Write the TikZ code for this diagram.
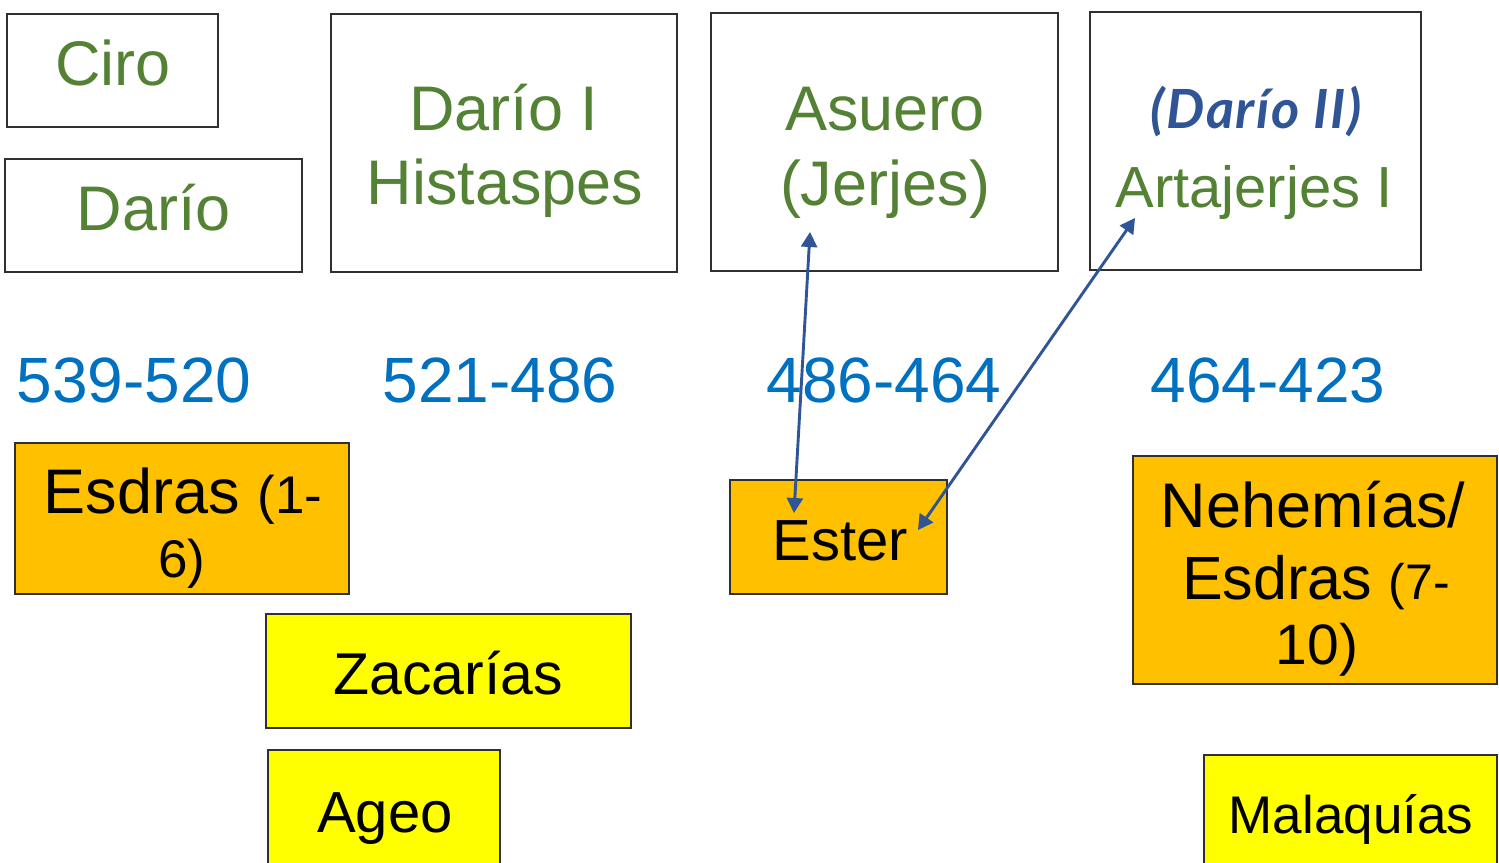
\documentclass[tikz,border=0pt]{standalone}
\usepackage{fontspec}
\setmainfont{Liberation Sans}
\newfontfamily\handfont[LetterSpace=3]{Lato}
\usetikzlibrary{arrows.meta}
\definecolor{kgreen}{HTML}{548235}
\definecolor{kyear}{HTML}{0070C0}
\definecolor{karrow}{HTML}{2F5597}
\definecolor{korange}{HTML}{FFC000}
\definecolor{kyellow}{HTML}{FFFF00}
\definecolor{kborder}{HTML}{303030}
\newcommand{\fs}[1]{\fontsize{#1}{#1}\selectfont}
\tikzset{
  kingbox/.style={draw=kborder, line width=1.2pt, fill=white},
  bookbox/.style={draw=kborder, line width=1.2pt, fill=korange},
  prophbox/.style={draw=kborder, line width=1.2pt, fill=kyellow},
  kingtxt/.style={anchor=base, inner sep=0pt, text=kgreen, font=\fs{63}},
  yeartxt/.style={anchor=base, inner sep=0pt, text=kyear, font=\fs{64}},
  blacktxt/.style={anchor=base, inner sep=0pt, text=black, font=\fs{63}},
  link/.style={draw=karrow, line width=2.9pt, {Triangle[length=15pt,width=16pt]}-{Triangle[length=15pt,width=16pt]}}
}
\begin{document}
\begin{tikzpicture}[x=1pt,y=-1pt]
\useasboundingbox (0,0) rectangle (1499,862);
\clip (0,0) rectangle (1499,862);
% king boxes
\draw[kingbox] (7,14) rectangle (218,127);
\node[kingtxt] (ciro) at (113,85) {Ciro};
\draw[kingbox] (5,159) rectangle (302,272);
\node[kingtxt] (dario) at (154,230) {Darío};
\draw[kingbox] (331,14) rectangle (677,272);
\node[kingtxt] (dario1) at (504,130) {Darío I};
\node[kingtxt] (histaspes) at (505,204) {Histaspes};
\draw[kingbox] (711,13) rectangle (1058,271);
\node[kingtxt] (asuero) at (885,130) {Asuero};
\node[kingtxt] (jerjes) at (885,205) {(Jerjes)};
\draw[kingbox] (1090,12) rectangle (1421,270);
\node[anchor=base, inner sep=0pt, text=karrow, font=\handfont\bfseries\itshape\fs{54}] (dario2) at (1256,128) {(Darío II)};
\node[kingtxt, font=\fs{58}] (artajerjes) at (1254,207) {Artajerjes I};
% years
\node[yeartxt] (y1) at (134,402) {539-520};
\node[yeartxt] (y2) at (500,402) {521-486};
\node[yeartxt] (y3) at (884,402) {486-464};
\node[yeartxt] (y4) at (1268,402) {464-423};
% books
\draw[bookbox] (15,443) rectangle (349,594);
\node[blacktxt] (esdras1) at (183,513) {Esdras {\fs{53}(1-}};
\node[blacktxt, font=\fs{53}] (esdras1b) at (182,577) {6)};
\draw[bookbox] (730,480) rectangle (947,594);
\node[blacktxt, font=\fs{58}] (ester) at (840,560) {Ester};
\draw[bookbox] (1133,456) rectangle (1497,684);
\node[blacktxt] (nehemias) at (1313,527) {Nehemías/};
\node[blacktxt, font=\fs{61}] (esdras2) at (1316,599) {Esdras {\fs{50}(7-}};
\node[blacktxt, font=\fs{57}] (esdras2b) at (1317,664) {10)};
% prophets
\draw[prophbox] (266,614) rectangle (631,728);
\node[blacktxt, font=\fs{59}] (zacarias) at (448,694) {Zacarías};
\draw[prophbox] (268,750) rectangle (500,880);
\node[blacktxt, font=\fs{58}] (ageo) at (385,832) {Ageo};
\draw[prophbox] (1204,755) rectangle (1497,880);
\node[blacktxt, font=\fs{53}] (malaquias) at (1351,833) {Malaquías};
% connectors
\coordinate (asueroEnd) at (810,232);
\coordinate (esterTop) at (794,513);
\coordinate (artaEnd) at (1135,218);
\coordinate (esterRight) at (918,530);
\draw[link] (asueroEnd) -- (esterTop);
\draw[link] (artaEnd) -- (esterRight);
\end{tikzpicture}
\end{document}
